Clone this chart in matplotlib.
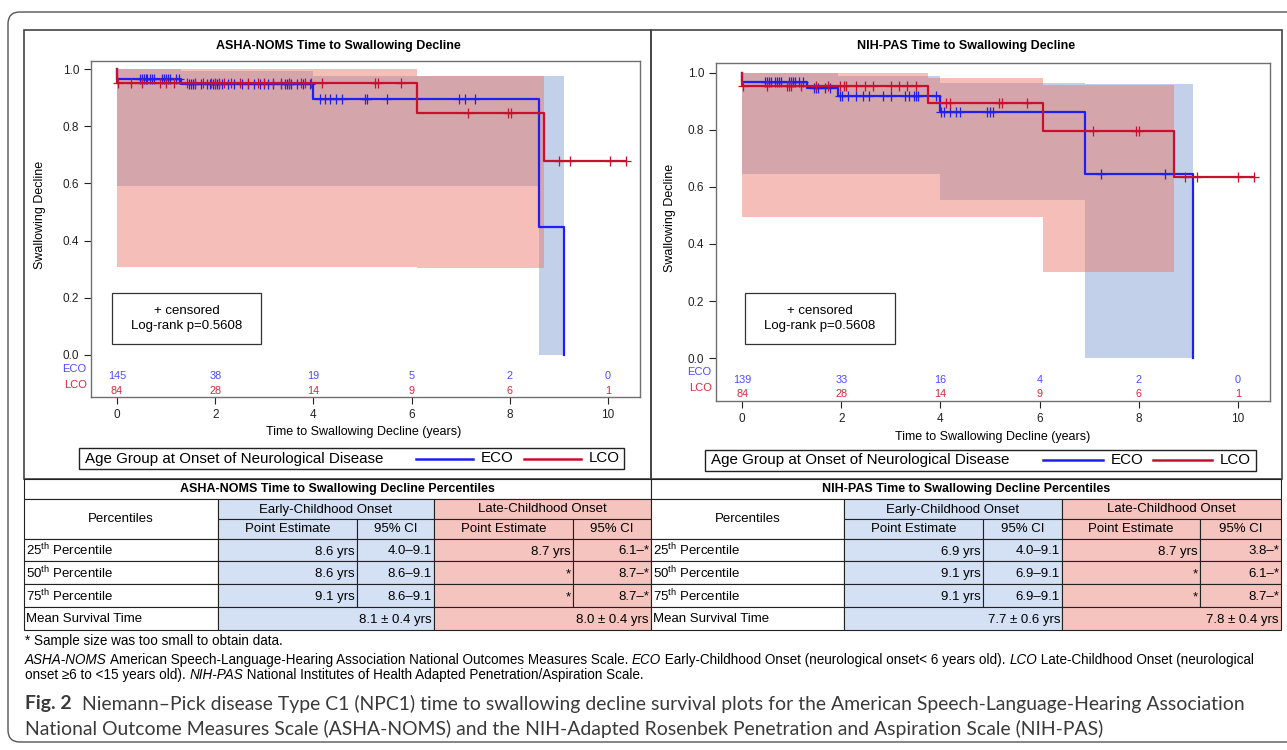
import matplotlib
matplotlib.use("Agg")
import matplotlib.pyplot as plt
from matplotlib import font_manager
from matplotlib.patches import Rectangle, FancyBboxPatch
from matplotlib.lines import Line2D

plt.rcParams["font.family"] = ["Liberation Sans", "DejaVu Sans"]
plt.rcParams["mathtext.fontset"] = "custom"
plt.rcParams["mathtext.rm"] = "Liberation Sans"
plt.rcParams["mathtext.it"] = "Liberation Sans:italic"
plt.rcParams["mathtext.bf"] = "Liberation Sans:bold"

installed = {f.name for f in font_manager.fontManager.ttflist}
NOTE_FONT = "Liberation Sans Narrow" if "Liberation Sans Narrow" in installed else "Liberation Sans"
CAP_FONT = "Lato" if "Lato" in installed else "DejaVu Sans"

ECO_COLOR = "#1f1fef"
LCO_COLOR = "#c8102e"
ECO_TXT = "#4a4aff"
LCO_TXT = "#d8283a"
BLUE_BAND = "#c2d0ea"
RED_BAND = "#ec7568"
BLUE_CELL = "#d4e0f4"
PINK_CELL = "#f5c4be"

# ---------------- ASHA-NOMS data ----------------
asha_eco_t = [0, 0, 1.3, 4.0, 8.6, 9.1]
asha_eco_s = [1.0, 0.965, 0.948, 0.896, 0.449, 0.0]
asha_lco_t = [0, 0, 6.1, 8.7, 10.37]
asha_lco_s = [1.0, 0.952, 0.847, 0.677, 0.677]
asha_eco_ci_t = [0, 1.3, 4.0, 8.6, 9.1]
asha_eco_ci_hi = [1.0, 0.994, 0.977, 0.977, 0.977]
asha_eco_ci_lo = [0.592, 0.592, 0.592, 0.0, 0.0]
asha_lco_ci_t = [0, 6.1, 8.7]
asha_lco_ci_hi = [1.0, 0.977, 0.977]
asha_lco_ci_lo = [0.309, 0.305, 0.305]
asha_eco_cens = [0.46, 0.5, 0.54, 0.58, 0.62, 0.67, 0.71, 0.75, 0.92, 0.96, 1.0, 1.04,
                 1.08, 1.2, 1.27, 1.46, 1.5, 1.54, 1.58, 1.71, 1.83, 1.9, 1.96, 2.0, 2.04,
                 2.08, 2.13, 2.25, 2.38, 2.54, 2.67, 2.79, 2.92, 3.0, 3.08, 3.17, 3.33, 3.42,
                 3.46, 3.5, 3.54, 3.67, 3.79, 3.92, 4.13, 4.23, 4.33, 4.46, 4.58, 5.04, 5.1,
                 5.5, 6.96, 7.08, 7.29]
asha_lco_cens = [0.02, 0.29, 0.5, 0.88, 1.0, 1.17, 1.42, 1.58, 1.75, 1.92, 2.0, 2.08, 2.17,
                 2.33, 2.5, 2.67, 2.88, 3.0, 3.17, 3.33, 3.5, 3.75, 3.83, 3.96, 4.17, 5.25,
                 5.32, 5.79, 7.14, 7.96, 8.03, 9.0, 9.23, 10.04, 10.37]
asha_eco_risk = [145, 38, 19, 5, 2, 0]
asha_lco_risk = [84, 28, 14, 9, 6, 1]

# ---------------- NIH-PAS data ----------------
pas_eco_t = [0, 0, 1.3, 1.93, 3.99, 6.91, 9.09]
pas_eco_s = [1.0, 0.966, 0.946, 0.918, 0.863, 0.645, 0.0]
pas_lco_t = [0, 0, 3.74, 6.07, 8.72, 10.33]
pas_lco_s = [1.0, 0.953, 0.895, 0.796, 0.636, 0.636]
pas_eco_ci_t = [0, 1.3, 1.93, 3.99, 6.91, 9.09]
pas_eco_ci_hi = [1.0, 0.998, 0.988, 0.965, 0.962, 0.962]
pas_eco_ci_lo = [0.645, 0.645, 0.645, 0.555, 0.0, 0.0]
pas_lco_ci_t = [0, 3.74, 6.07, 8.72]
pas_lco_ci_hi = [1.0, 0.983, 0.957, 0.957]
pas_lco_ci_lo = [0.493, 0.493, 0.302, 0.302]
pas_eco_cens = [0.45, 0.49, 0.53, 0.58, 0.66, 0.7, 0.74, 0.78, 0.95, 0.99, 1.03, 1.07,
                1.15, 1.23, 1.44, 1.48, 1.52, 1.66, 1.77, 1.98, 2.02, 2.14, 2.3, 2.43,
                2.55, 2.84, 3.0, 3.29, 3.37, 3.46, 3.5, 3.54, 3.91, 4.02, 4.07, 4.2, 4.32,
                4.4, 4.94, 5.0, 5.06, 7.24, 8.54]
pas_lco_cens = [0.02, 0.49, 0.9, 0.95, 0.99, 1.19, 1.48, 1.73, 1.98, 2.06, 2.1, 2.3, 2.47,
                2.63, 3.0, 3.17, 3.33, 3.5, 4.12, 4.2, 5.19, 5.25, 5.74, 7.08, 7.94, 8.0,
                8.93, 9.18, 10.0, 10.33]
pas_eco_risk = [139, 33, 16, 4, 2, 0]
pas_lco_risk = [84, 28, 14, 9, 6, 1]

risk_times = [0, 2, 4, 6, 8, 10]

# ---------------- percentile tables ----------------
pct_labels = ["25$^{\\mathrm{th}}$ Percentile", "50$^{\\mathrm{th}}$ Percentile",
              "75$^{\\mathrm{th}}$ Percentile"]
asha_early_pt = ["8.6 yrs", "8.6 yrs", "9.1 yrs"]
asha_early_ci = ["4.0\u20139.1", "8.6\u20139.1", "8.6\u20139.1"]
asha_late_pt = ["8.7 yrs", "*", "*"]
asha_late_ci = ["6.1\u2013*", "8.7\u2013*", "8.7\u2013*"]
asha_mean = ["8.1 \u00b1 0.4 yrs", "8.0 \u00b1 0.4 yrs"]
pas_early_pt = ["6.9 yrs", "9.1 yrs", "9.1 yrs"]
pas_early_ci = ["4.0\u20139.1", "6.9\u20139.1", "6.9\u20139.1"]
pas_late_pt = ["8.7 yrs", "*", "*"]
pas_late_ci = ["3.8\u2013*", "6.1\u2013*", "8.7\u2013*"]
pas_mean = ["7.7 \u00b1 0.6 yrs", "7.8 \u00b1 0.4 yrs"]


def surv_at(ts, ss, t):
    val = ss[0]
    for ti, si in zip(ts, ss):
        if ti <= t:
            val = si
    return val


fig = plt.figure(figsize=(12.87, 7.5), dpi=100)
bg = fig.add_axes([0, 0, 1, 1], zorder=0)
bg.set_xlim(0, 1287)
bg.set_ylim(750, 0)
bg.axis("off")

# frames
bg.add_patch(FancyBboxPatch((8, 12), 1300, 730, boxstyle="round,pad=0,rounding_size=12",
                            fc="none", ec="#555555", lw=1.0))
bg.add_patch(Rectangle((24, 30), 627, 449, fc="none", ec="#444444", lw=1.2))
bg.add_patch(Rectangle((651, 30), 631, 449, fc="none", ec="#444444", lw=1.2))


def km_panel(ax, eco, lco, eco_ci, lco_ci, eco_cens, lco_cens, eco_risk, lco_risk, ylim, box):
    ax.fill_between(eco_ci[0], eco_ci[2], eco_ci[1], step="post", color=BLUE_BAND, lw=0, zorder=1)
    ax.fill_between(lco_ci[0], lco_ci[2], lco_ci[1], step="post", color=RED_BAND, alpha=0.47,
                    lw=0, zorder=2)
    ax.step(eco[0], eco[1], where="post", color=ECO_COLOR, lw=1.6, zorder=3)
    ax.plot(eco_cens, [surv_at(eco[0], eco[1], t) for t in eco_cens], ls="none", marker="+",
            ms=7, mew=0.9, color=ECO_COLOR, zorder=3)
    ax.step(lco[0], lco[1], where="post", color=LCO_COLOR, lw=1.6, zorder=4)
    ax.plot(lco_cens, [surv_at(lco[0], lco[1], t) for t in lco_cens], ls="none", marker="+",
            ms=7, mew=0.9, color=LCO_COLOR, zorder=4)

    for t, n in zip(risk_times, eco_risk):
        ax.text(t, -0.075, str(n), ha="center", va="center", color=ECO_TXT, fontsize=7.8)
    for t, n in zip(risk_times, lco_risk):
        ax.text(t, -0.126, str(n), ha="center", va="center", color=LCO_TXT, fontsize=7.8)
    tr = ax.get_yaxis_transform()
    ax.text(-0.008, -0.048, "ECO", transform=tr, ha="right", va="center", color=ECO_TXT,
            fontsize=8, clip_on=False)
    ax.text(-0.008, -0.106, "LCO", transform=tr, ha="right", va="center", color=LCO_TXT,
            fontsize=8, clip_on=False)

    ax.add_patch(Rectangle((box[0], box[1]), box[2], box[3], transform=ax.transAxes,
                           fc="white", ec="#333333", lw=0.9, zorder=5))
    ax.text(box[0] + box[2] / 2, box[1] + box[3] / 2, "+ censored\nLog-rank p=0.5608",
            transform=ax.transAxes, ha="center", va="center", fontsize=9.5,
            linespacing=1.25, zorder=6)

    ax.set_xlim(-0.53, 10.65)
    ax.set_ylim(*ylim)
    ax.set_xticks(risk_times)
    ax.set_yticks([0, 0.2, 0.4, 0.6, 0.8, 1.0])
    ax.set_yticklabels(["0.0", "0.2", "0.4", "0.6", "0.8", "1.0"])
    ax.tick_params(direction="out", length=5, width=0.8, labelsize=8.5, colors="#222222")
    for sp in ax.spines.values():
        sp.set_color("#707070")
        sp.set_linewidth(1.0)
    ax.set_ylabel("Swallowing Decline", fontsize=9)
    ax.set_xlabel("Time to Swallowing Decline (years)", fontsize=9)


ax1 = fig.add_axes([91 / 1287, 1 - 397 / 750, 549 / 1287, 336 / 750], zorder=2)
km_panel(ax1, (asha_eco_t, asha_eco_s), (asha_lco_t, asha_lco_s),
         (asha_eco_ci_t, asha_eco_ci_hi, asha_eco_ci_lo),
         (asha_lco_ci_t, asha_lco_ci_hi, asha_lco_ci_lo),
         asha_eco_cens, asha_lco_cens, asha_eco_risk, asha_lco_risk,
         (-0.147, 1.028), (0.0383, 0.1577, 0.2714, 0.1518))
ax1.yaxis.set_label_coords(-0.082, 0.542)
ax1.xaxis.set_label_coords(0.497, -0.085)

ax2 = fig.add_axes([716 / 1287, 1 - 401 / 750, 554 / 1287, 338 / 750], zorder=2)
km_panel(ax2, (pas_eco_t, pas_eco_s), (pas_lco_t, pas_lco_s),
         (pas_eco_ci_t, pas_eco_ci_hi, pas_eco_ci_lo),
         (pas_lco_ci_t, pas_lco_ci_hi, pas_lco_ci_lo),
         pas_eco_cens, pas_lco_cens, pas_eco_risk, pas_lco_risk,
         (-0.15, 1.034), (0.0523, 0.1686, 0.2708, 0.1509))
ax2.yaxis.set_label_coords(-0.072, 0.541)
ax2.xaxis.set_label_coords(0.50, -0.088)

bg.text(338, 46, "ASHA-NOMS Time to Swallowing Decline", ha="center", va="center",
        fontsize=9, weight="bold")
bg.text(966, 46, "NIH-PAS Time to Swallowing Decline", ha="center", va="center",
        fontsize=9, weight="bold")


def legend_box(x0, x1, y, xs):
    bg.add_patch(Rectangle((x0, y - 10.5), x1 - x0, 21, fc="white", ec="#222222", lw=1.0))
    bg.text(xs[0], y, "Age Group at Onset of Neurological Disease", ha="left", va="center",
            fontsize=10.9)
    bg.add_line(Line2D([xs[1], xs[2]], [y, y], color=ECO_COLOR, lw=1.8))
    bg.text(xs[3], y, "ECO", ha="left", va="center", fontsize=10.9)
    bg.add_line(Line2D([xs[4], xs[5]], [y, y], color=LCO_COLOR, lw=1.8))
    bg.text(xs[6], y, "LCO", ha="left", va="center", fontsize=10.9)


legend_box(79, 624, 458.5, [85, 416, 473, 481, 524, 581, 589])
legend_box(705, 1256, 460, [711, 1043, 1103, 1111, 1153, 1212, 1220])


# ---------------- tables ----------------
rows_y = [479, 499, 519, 539, 561, 584, 607, 630]


def cell(x0, x1, y0, y1, fc, text="", align="center", **kw):
    bg.add_patch(Rectangle((x0, y0), x1 - x0, y1 - y0, fc=fc, ec="#222222", lw=0.8))
    if align == "center":
        bg.text((x0 + x1) / 2, (y0 + y1) / 2 + 0.5, text, ha="center", va="center",
                fontsize=9.5, **kw)
    elif align == "left":
        bg.text(x0 + 2, (y0 + y1) / 2 + 0.5, text, ha="left", va="center", fontsize=9.5, **kw)
    else:
        bg.text(x1 - 2, (y0 + y1) / 2 + 1.5, text, ha="right", va="center", fontsize=9.5, **kw)


def pct_table(xe, title, early_pt, early_ci, late_pt, late_ci, means):
    ry = rows_y
    bg.add_patch(Rectangle((xe[0], ry[0]), xe[5] - xe[0], ry[1] - ry[0], fc="white",
                           ec="#222222", lw=0.8))
    bg.text((xe[0] + xe[5]) / 2, (ry[0] + ry[1]) / 2, title, ha="center", va="center",
            fontsize=9, weight="bold")
    cell(xe[0], xe[1], ry[1], ry[3], "white", "Percentiles")
    cell(xe[1], xe[3], ry[1], ry[2], BLUE_CELL, "Early-Childhood Onset")
    cell(xe[3], xe[5], ry[1], ry[2], PINK_CELL, "Late-Childhood Onset")
    cell(xe[1], xe[2], ry[2], ry[3], BLUE_CELL, "Point Estimate")
    cell(xe[2], xe[3], ry[2], ry[3], BLUE_CELL, "95% CI")
    cell(xe[3], xe[4], ry[2], ry[3], PINK_CELL, "Point Estimate")
    cell(xe[4], xe[5], ry[2], ry[3], PINK_CELL, "95% CI")
    for i in range(3):
        y0, y1 = ry[3 + i], ry[4 + i]
        cell(xe[0], xe[1], y0, y1, "white", pct_labels[i], "left")
        cell(xe[1], xe[2], y0, y1, BLUE_CELL, early_pt[i], "right")
        cell(xe[2], xe[3], y0, y1, BLUE_CELL, early_ci[i], "right")
        cell(xe[3], xe[4], y0, y1, PINK_CELL, late_pt[i], "right")
        cell(xe[4], xe[5], y0, y1, PINK_CELL, late_ci[i], "right")
    cell(xe[0], xe[1], ry[6], ry[7], "white", "Mean Survival Time", "left")
    cell(xe[1], xe[3], ry[6], ry[7], BLUE_CELL, means[0], "right")
    cell(xe[3], xe[5], ry[6], ry[7], PINK_CELL, means[1], "right")


pct_table([24, 218, 357, 434, 573, 651], "ASHA-NOMS Time to Swallowing Decline Percentiles",
          asha_early_pt, asha_early_ci, asha_late_pt, asha_late_ci, asha_mean)
pct_table([651, 844, 983, 1062, 1200, 1281], "NIH-PAS Time to Swallowing Decline Percentiles",
          pas_early_pt, pas_early_ci, pas_late_pt, pas_late_ci, pas_mean)


# ---------------- footnotes and caption ----------------
renderer = fig.canvas.get_renderer()


def runs_width(runs, size, **kw):
    total = 0
    for s, st in runs:
        t = bg.text(0, 0, s, fontsize=size, **st, **kw)
        total += t.get_window_extent(renderer).width
        t.remove()
    return total


def draw_runs(x, y, runs, size, **kw):
    for s, st in runs:
        t = bg.text(x, y, s, fontsize=size, ha="left", va="center", **st, **kw)
        x += t.get_window_extent(renderer).width


IT = {"style": "italic"}
RM = {}
BF = {"weight": "bold"}

note1 = [("* Sample size was too small to obtain data.", RM)]
note2 = [("ASHA-NOMS", IT),
         (" American Speech-Language-Hearing Association National Outcomes Measures Scale. ", RM),
         ("ECO", IT), (" Early-Childhood Onset (neurological onset< 6 years old). ", RM),
         ("LCO", IT), (" Late-Childhood Onset (neurological", RM)]
note3 = [("onset \u22656 to <15 years old). ", RM), ("NIH-PAS", IT),
         (" National Institutes of Health Adapted Penetration/Aspiration Scale.", RM)]

note_size = 8.0 * 1237 / runs_width(note2, 8.0, family=NOTE_FONT)
draw_runs(25, 641, note1, note_size, family=NOTE_FONT)
draw_runs(25, 660, note2, note_size, family=NOTE_FONT)
draw_runs(25, 675, note3, note_size, family=NOTE_FONT)

cap1 = [("Fig. 2", BF),
        ("  Niemann\u2013Pick disease Type C1 (NPC1) time to swallowing decline survival plots "
         "for the American Speech-Language-Hearing Association", RM)]
cap2 = [("National Outcome Measures Scale (ASHA-NOMS) and the NIH-Adapted Rosenbek "
         "Penetration and Aspiration Scale (NIH-PAS)", RM)]
cap_size = 12.0 * 1218 / runs_width(cap1, 12.0, family=CAP_FONT)
draw_runs(25, 704, cap1, cap_size, family=CAP_FONT, color="#3a3a3a")
draw_runs(25, 729, cap2, cap_size, family=CAP_FONT, color="#3a3a3a")

fig.savefig("out.png", dpi=100)
